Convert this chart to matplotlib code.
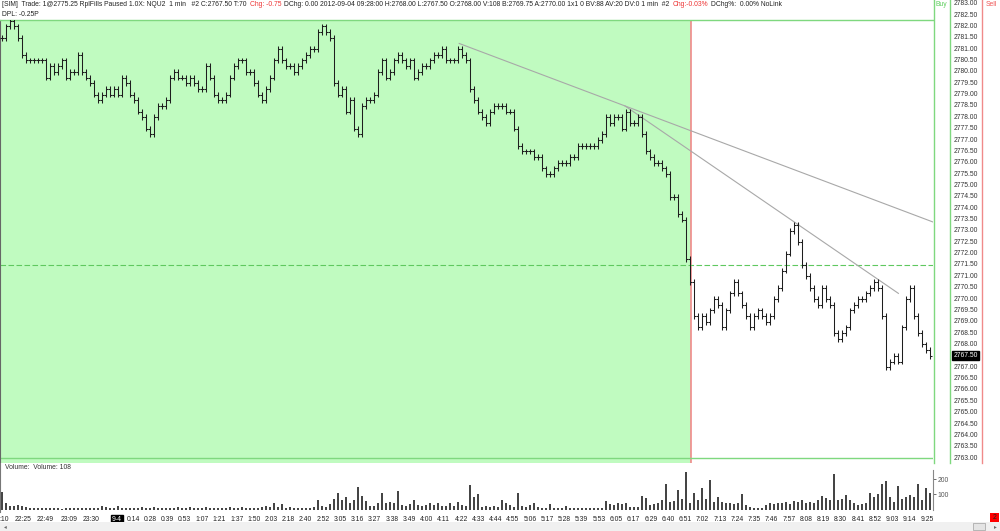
import matplotlib
matplotlib.use("Agg")
import matplotlib.pyplot as plt
from matplotlib.lines import Line2D
from matplotlib.patches import Rectangle
import numpy as np

plt.rcParams['font.family'] = ['Liberation Sans', 'DejaVu Sans']

# 1 min NQU2 closes (each point ~2.5 bars of the original chart)
closes = [
    2781.50, 2782.00, 2782.25, 2782.00, 2781.50, 2780.75, 2780.50, 2780.50, 2780.50, 2780.50,
    2780.50, 2779.75, 2780.25, 2780.00, 2780.25, 2780.50, 2779.75, 2780.00, 2780.00, 2780.75,
    2780.00, 2779.75, 2779.50, 2779.00, 2778.75, 2779.00, 2779.25, 2779.00, 2779.25, 2779.00,
    2779.75, 2779.50, 2779.00, 2778.75, 2778.25, 2778.00, 2777.50, 2777.25, 2778.00, 2778.50,
    2778.50, 2778.75, 2779.75, 2780.00, 2779.75, 2779.75, 2779.50, 2779.75, 2779.50, 2779.25,
    2779.25, 2780.25, 2779.75, 2779.00, 2778.75, 2778.75, 2779.00, 2779.75, 2780.25, 2780.50,
    2780.50, 2780.00, 2780.00, 2779.50, 2779.00, 2778.75, 2779.25, 2779.75, 2780.50, 2781.00,
    2780.50, 2780.25, 2780.25, 2780.00, 2780.25, 2780.50, 2780.75, 2781.00, 2781.00, 2781.75,
    2782.00, 2781.75, 2781.50, 2779.50, 2779.00, 2779.25, 2778.25, 2778.75, 2777.50, 2777.25,
    2778.50, 2778.75, 2778.75, 2779.00, 2780.00, 2780.50, 2779.75, 2780.00, 2780.50, 2780.75,
    2780.50, 2780.25, 2780.50, 2779.75, 2780.00, 2780.25, 2780.25, 2780.50, 2780.75, 2780.75,
    2781.00, 2780.50, 2780.50, 2780.50, 2781.00, 2780.75, 2780.50, 2779.25, 2778.75, 2778.25,
    2778.00, 2777.75, 2778.25, 2778.50, 2778.50, 2778.50, 2778.25, 2778.25, 2777.50, 2776.75,
    2776.50, 2776.50, 2776.50, 2776.25, 2776.25, 2775.75, 2775.50, 2775.50, 2775.75, 2776.00,
    2776.00, 2776.00, 2776.25, 2776.25, 2776.75, 2776.75, 2776.75, 2776.75, 2776.75, 2777.00,
    2777.25, 2778.00, 2777.75, 2778.00, 2778.00, 2777.50, 2778.25, 2777.75, 2777.75, 2778.00,
    2777.25, 2776.50, 2776.25, 2776.00, 2776.00, 2775.75, 2775.50, 2774.50, 2774.50, 2773.75,
    2773.50, 2771.75, 2770.75, 2769.25, 2768.75, 2769.25, 2769.00, 2769.50, 2770.00, 2769.75,
    2768.75, 2769.50, 2770.25, 2770.75, 2770.25, 2769.75, 2769.25, 2768.75, 2769.25, 2769.50,
    2769.25, 2769.00, 2769.25, 2770.00, 2770.50, 2771.25, 2772.00, 2773.00, 2773.25, 2772.50,
    2771.50, 2771.00, 2770.50, 2770.00, 2769.75, 2770.50, 2770.00, 2769.75, 2768.50, 2768.25,
    2768.50, 2768.75, 2769.50, 2769.75, 2770.00, 2770.00, 2770.25, 2770.50, 2770.75, 2770.50,
    2769.25, 2767.00, 2767.25, 2767.50, 2767.25, 2768.75, 2770.00, 2770.50, 2769.25, 2768.50,
    2768.00, 2767.75, 2767.50,
]

volumes = [
    115, 40, 25, 25, 30, 25, 20, 12, 10, 10,
    10, 8, 12, 9, 10, 7, 12, 10, 9, 11, 8, 10, 12, 9, 10,
    25, 20, 12, 10, 22, 10, 12, 8,
    12, 10, 14, 9, 11, 15, 10, 12, 9, 13,
    10, 14, 12, 10, 15, 11, 13, 10, 14, 12, 9, 11, 13, 10, 15, 12, 10, 14, 11, 13, 10, 12,
    20, 25, 18, 45, 15, 35, 12, 14, 10, 12,
    10, 12, 10, 15, 60, 25, 20, 35, 70, 106,
    60, 80, 45, 60, 150, 90, 55, 25, 25, 40,
    106, 45, 50, 40, 124, 30, 25, 35, 60, 30,
    25, 30, 40, 30, 45, 25, 25, 40, 25, 50,
    30, 25, 160, 80, 100, 20, 25, 15, 25, 20,
    60, 45, 30, 20, 106, 25, 20, 30, 40, 15,
    12, 10, 35, 12, 10, 12, 22, 10, 8, 12,
    8, 10, 12, 8, 10, 12, 55, 35, 30, 40,
    35, 45, 15, 20, 15, 90, 75, 30, 35, 40,
    60, 166, 50, 55, 130, 70, 245, 45, 106, 60,
    140, 70, 196, 50, 80, 50, 40, 45, 35, 40,
    103, 30, 15, 10, 8, 12, 30, 40, 35, 45,
    40, 50, 35, 55, 50, 65, 40, 50, 45, 60,
    90, 75, 65, 232, 60, 70, 95, 60, 40, 30,
    35, 40, 106, 80, 100, 166, 190, 80, 50, 157,
    70, 80, 95, 80, 170, 60, 140, 110,
]

early_labels = [":10", "22:25", "22:49", "23:09", "23:30", "9-4"]
early_pos = [0.6, 5.25, 10.75, 16.7, 22.25, 28.75]
day_labels = ["0:14", "0:28", "0:39", "0:53", "1:07", "1:21", "1:37", "1:50", "2:03", "2:18",
              "2:40", "2:52", "3:05", "3:16", "3:27", "3:38", "3:49", "4:00", "4:11", "4:22",
              "4:33", "4:44", "4:55", "5:06", "5:17", "5:28", "5:39", "5:53", "6:05", "6:17",
              "6:29", "6:40", "6:51", "7:02", "7:13", "7:24", "7:35", "7:46", "7:57", "8:08",
              "8:19", "8:30", "8:41", "8:52", "9:03", "9:14", "9:25"]

header = [
    ("[SIM]  Trade: 1@2775.25 RplFills Paused 1.0X: NQU2  1 min   #2 C:2767.50 T:70", '#222222'),
    ("Chg: -0.75", '#ee3333'),
    ("DChg: 0.00 2012-09-04 09:28:00 H:2768.00 L:2767.50 O:2768.00 V:108 B:2769.75 "
     "A:2770.00 1x1 0 BV:88 AV:20 DV:0 1 min  #2", '#222222'),
    ("Chg:-0.03%", '#ee3333'),
    ("DChg%:  0.00% NoLink", '#222222'),
]

session_end = 172.25          # end of replayed part (green)
dashed_level = 2771.50
trend1 = [(114.3, 2781.25), (155.75, 2778.50)]
trend2 = [(155.75, 2778.50), (224.1, 2770.25)]

W, H = 1000, 531
fig = plt.figure(figsize=(W / 100, H / 100), dpi=100)
fig.patch.set_facecolor('white')


def px_axes(x0, y0, x1, y1):
    return fig.add_axes([x0 / W, 1 - y1 / H, (x1 - x0) / W, (y1 - y0) / H])


def price_at(ypx):
    return 2783 - (ypx - 3.7) / 22.72


def vol_at(ypx):
    return (509.6 - ypx) / 0.153


def fline(x0, y0, x1, y1, **kw):
    fig.add_artist(Line2D([x0 / W, x1 / W], [1 - y0 / H, 1 - y1 / H],
                          transform=fig.transFigure, **kw))


GREEN = '#c0fbc0'
GLINE = '#7fd87f'
RLINE = '#f08a8a'
FS = 4.9

# ---- price panel ----
ax = px_axes(0, 20, 933, 463)
xmin, xmax = -0.5, 232.75
ax.set_xlim(xmin, xmax)
ax.set_ylim(price_at(463), price_at(20))
ax.axvspan(xmin, session_end, color=GREEN, lw=0, zorder=0)
ax.axvline(session_end, color=RLINE, lw=1.2, zorder=1)
ax.axhline(2763.0, color=GLINE, lw=1.0, zorder=1)
ax.axhline(dashed_level, color='#5fc85f', lw=0.8, dashes=(5, 2.2), zorder=1)

for (xa, ya), (xb, yb), xe in [(trend1[0], trend1[1], xmax), (trend2[0], trend2[1], trend2[1][0])]:
    slope = (yb - ya) / (xb - xa)
    ax.plot([xa, xe], [ya, ya + slope * (xe - xa)], color='#a8a8a8', lw=0.8, zorder=2)

x = np.arange(len(closes))
c = np.array(closes)
o = np.r_[c[0], c[:-1]]
hi = np.maximum(o, c) + 0.125
lo = np.minimum(o, c) - 0.125
bar_col = '#1e1e1e'
ax.vlines(x, lo, hi, color=bar_col, lw=0.75, zorder=3)
ax.hlines(o, x - 0.4, x, color=bar_col, lw=0.75, zorder=3)
ax.hlines(c, x, x + 0.4, color=bar_col, lw=0.75, zorder=3)

ax.set_xticks([])
ax.set_yticks([])
for s in ['right', 'bottom']:
    ax.spines[s].set_visible(False)
ax.spines['top'].set_color(GLINE)
ax.spines['top'].set_linewidth(1.0)
ax.spines['left'].set_color('#666666')
ax.spines['left'].set_linewidth(0.8)

# ---- price scale ----
sc = px_axes(949, 0, 982, 463)
sc.set_ylim(price_at(463), price_at(0))
sc.set_xlim(0, 1)
sc.axis('off')
for p in np.arange(2763.0, 2783.01, 0.5):
    if abs(p - closes[-1]) < 0.01:
        continue
    sc.text(0.5, p, f"{p:.2f}", ha='center', va='center', fontsize=FS, color='#333333')
sc.text(0.5, closes[-1], f"{closes[-1]:.2f}", ha='center', va='center', fontsize=FS,
        color='white', bbox=dict(boxstyle='square,pad=0.15', fc='black', ec='black'))

fline(933.5, 0, 933.5, 463, color=GLINE, lw=1.0)
fline(949.5, 0, 949.5, 463, color=GLINE, lw=1.0)
fline(982, 0, 982, 463, color=RLINE, lw=1.0)
fig.text(941 / W, 1 - 5 / H, "Buy", color='#5ccf5c', fontsize=FS, ha='center', va='center')
fig.text(991 / W, 1 - 5 / H, "Sell", color='#ef5555', fontsize=FS, ha='center', va='center')

# ---- header, pieces laid out one after another ----
renderer = fig.canvas.get_renderer()
hy = 1 - 5 / H
xcur = 2.0
for txt, col in header:
    t = fig.text(xcur / W, hy, txt, fontsize=4.85, va='center', color=col)
    xcur = t.get_window_extent(renderer).x1 + 3
fig.text(2 / W, 1 - 14 / H, "DPL: -0.25P", fontsize=4.85, va='center', color='#222222')

# ---- volume panel ----
av = px_axes(0, 463, 933, 512)
av.set_xlim(xmin, xmax)
av.set_ylim(vol_at(512), vol_at(463))
av.bar(x, volumes, width=0.6, color='#454545', lw=0)
av.yaxis.tick_right()
av.set_yticks([100, 200])
av.tick_params(axis='y', length=2.5, width=0.6, colors='#555555', labelsize=FS, pad=1)
ticks = early_pos + list(np.linspace(32.75, 231.25, len(day_labels)))
av.set_xticks(ticks)
av.set_xticklabels(early_labels + day_labels)
av.tick_params(axis='x', length=0, labelsize=FS, pad=3, colors='#222222')
for t in av.get_xticklabels():
    if t.get_text() == "9-4":
        t.set_color('white')
        t.set_bbox(dict(boxstyle='square,pad=0.2', fc='black', ec='black'))
av.spines['top'].set_visible(False)
av.spines['bottom'].set_visible(False)
av.spines['left'].set_color('#777777')
av.spines['right'].set_color('#888888')
av.spines['right'].set_bounds(0, vol_at(470))
av.text(5 / 933, 0.9, "Volume:  Volume: 108", transform=av.transAxes, fontsize=FS,
        color='#333333', va='center', ha='left')

# ---- scrollbar / status ----
fig.add_artist(Rectangle((0, 0), 1, 9 / H, transform=fig.transFigure, fc='#f0f0f0', ec='none'))
fig.add_artist(Rectangle((973 / W, 1 / H), 12 / W, 7 / H, transform=fig.transFigure,
                         fc='#e4e4e4', ec='#a0a0a0', lw=0.5))
fig.text(4 / W, 4.5 / H, "\u25c2", fontsize=4, color='#666666', va='center')
fig.text(994 / W, 4.5 / H, "\u25b8", fontsize=4, color='#666666', va='center')
fig.add_artist(Rectangle((990 / W, 1 - 522 / H), 9 / W, 9 / H, transform=fig.transFigure,
                         fc='#ff0000', ec='none'))
fig.text(994.5 / W, 1 - 517.5 / H, "2", fontsize=FS, color='#222222', ha='center', va='center')

fig.savefig("out.png", dpi=100)
